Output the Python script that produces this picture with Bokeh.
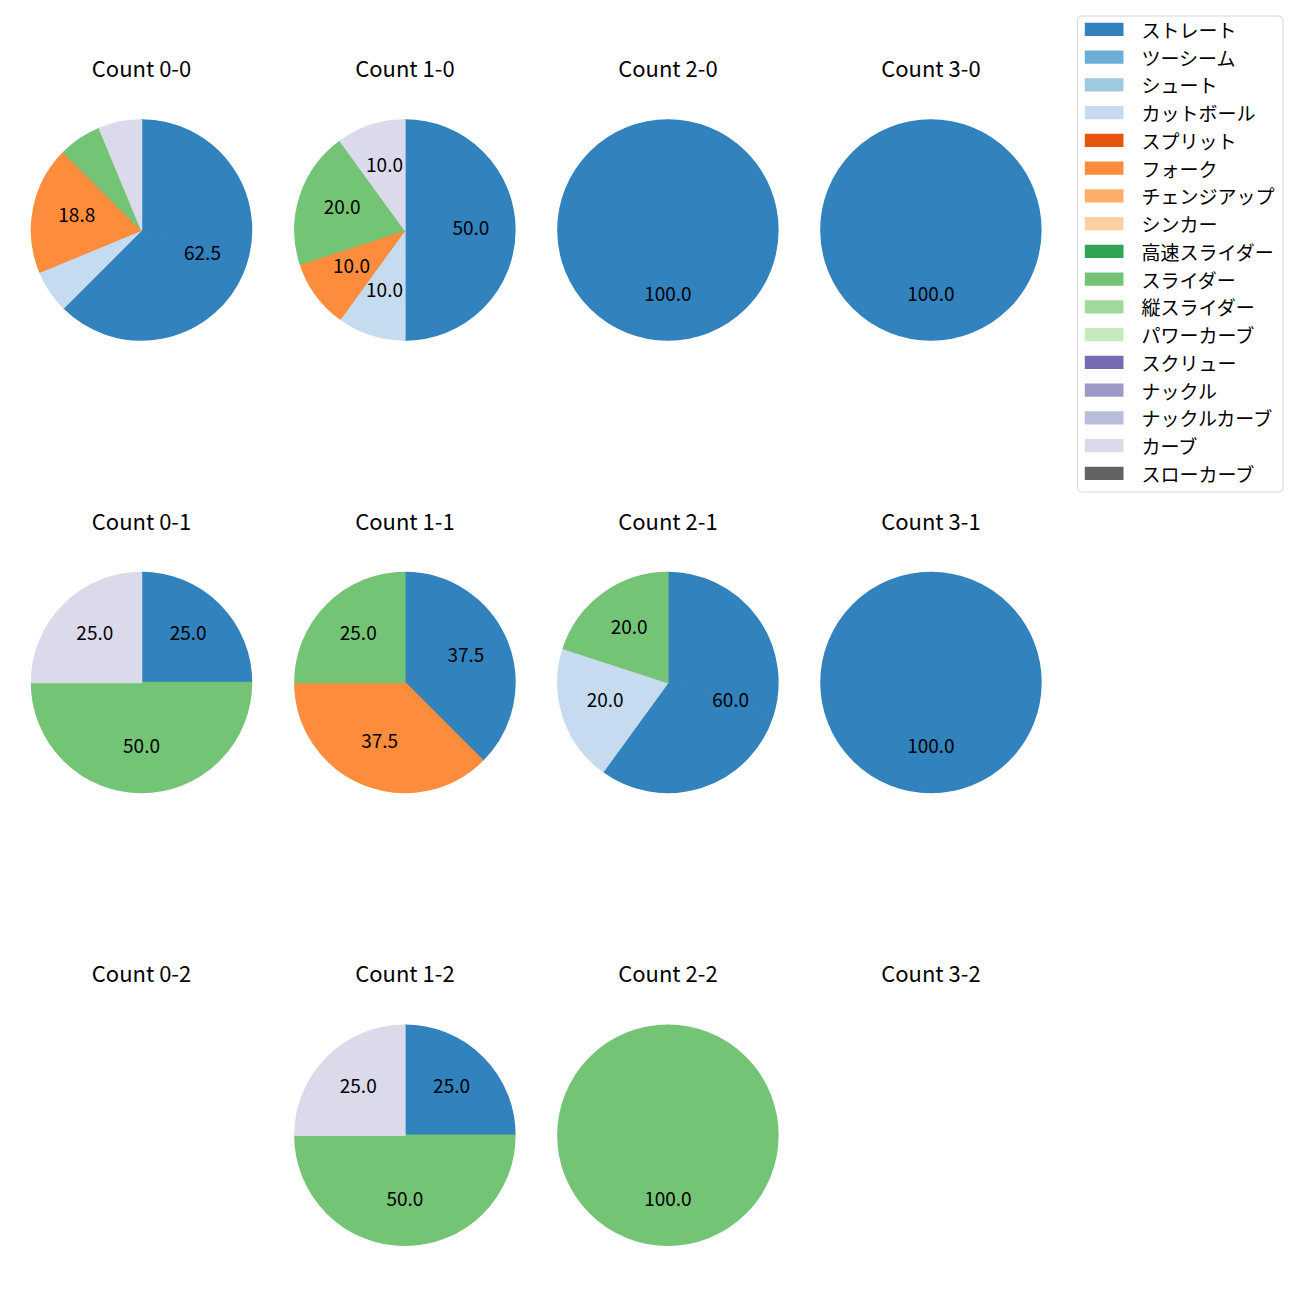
import math
from bokeh.plotting import figure
from bokeh.models import Range1d, ColumnDataSource
from bokeh.core.properties import value
from bokeh.embed import file_html
from bokeh.resources import INLINE

# ---------------- data ----------------
pitch_types = ["ストレート", "ツーシーム", "シュート", "カットボール", "スプリット", "フォーク",
               "チェンジアップ", "シンカー", "高速スライダー", "スライダー", "縦スライダー",
               "パワーカーブ", "スクリュー", "ナックル", "ナックルカーブ", "カーブ", "スローカーブ"]
pitch_colors = ["#3182bd", "#6baed6", "#9ecae1", "#c6dbef", "#e6550d", "#fd8d3c",
                "#fdae6b", "#fdd0a2", "#31a354", "#74c476", "#a1d99b", "#c7e9c0",
                "#756bb1", "#9e9ac8", "#bcbddc", "#dadaeb", "#636363"]
count_labels = ["0-0", "1-0", "2-0", "3-0",
                "0-1", "1-1", "2-1", "3-1",
                "0-2", "1-2", "2-2", "3-2"]
# number of pitches per count state (same order as count_labels)
straight = [10, 5, 1, 1, 1, 3, 3, 1, 0, 1, 0, 0]
cutter   = [1, 1, 0, 0, 0, 0, 1, 0, 0, 0, 0, 0]
fork     = [3, 1, 0, 0, 0, 3, 0, 0, 0, 0, 0, 0]
slider   = [1, 2, 0, 0, 2, 2, 1, 0, 0, 2, 1, 0]
curve    = [1, 1, 0, 0, 1, 0, 0, 0, 0, 1, 0, 0]

pitch_counts = {name: [0] * len(count_labels) for name in pitch_types}
pitch_counts["ストレート"] = straight
pitch_counts["カットボール"] = cutter
pitch_counts["フォーク"] = fork
pitch_counts["スライダー"] = slider
pitch_counts["カーブ"] = curve

# ---------------- layout ----------------
PAGE = 1300
SIZE = 1290
FONT = "Noto Sans CJK JP"
col_x = [141.0, 404.4, 667.4, 930.4]
row_py = [229.5, 682.0, 1134.8]
R = 110.0
TITLE_OFF = 163.0
PCT_DIST = 0.6
LABEL_DY = 2.5


def sy(py):
    return PAGE - py


p = figure(width=SIZE, height=SIZE, x_range=Range1d(0, SIZE), y_range=Range1d(PAGE - SIZE, PAGE),
           output_backend="svg", toolbar_location=None, title=None, min_border=0,
           x_axis_type=None, y_axis_type=None)
p.outline_line_color = None
p.background_fill_color = "white"
p.border_fill_color = "white"

wx, wy, ws, we, wc = [], [], [], [], []
lx, ly, lt = [], [], []
tx, ty, tt = [], [], []

for k, lab in enumerate(count_labels):
    row, col = k // 4, k % 4
    cx, cy = col_x[col], sy(row_py[row])
    tx.append(cx)
    ty.append(sy(row_py[row] - TITLE_OFF))
    tt.append("Count " + lab)
    vals = [pitch_counts[n][k] for n in pitch_types]
    total = sum(vals)
    if total == 0:
        continue
    cum = 0.0
    for v, c in zip(vals, pitch_colors):
        if v <= 0:
            continue
        frac = v / total
        a0 = cum
        a1 = cum + frac
        # split slices larger than half a circle into two pieces
        pieces = [(a0, a1)] if frac <= 0.5 else [(a0, a0 + frac / 2), (a0 + frac / 2, a1)]
        for s, e in pieces:
            wx.append(cx)
            wy.append(cy)
            ws.append(math.pi / 2 - 2 * math.pi * e)
            we.append(math.pi / 2 - 2 * math.pi * s)
            wc.append(c)
        pct = frac * 100
        if pct >= 10:
            mid = math.pi / 2 - 2 * math.pi * (a0 + frac / 2)
            lx.append(cx + PCT_DIST * R * math.cos(mid))
            ly.append(cy + PCT_DIST * R * math.sin(mid) + LABEL_DY)
            lt.append("%.1f" % pct)
        cum = a1

wsrc = ColumnDataSource(dict(x=wx, y=wy, s=ws, e=we, c=wc))
p.wedge(x="x", y="y", radius=R, start_angle="s", end_angle="e", source=wsrc,
        fill_color="c", line_color="c", line_width=1.5)

p.text(x="x", y="y", text="t", source=ColumnDataSource(dict(x=lx, y=ly, t=lt)),
       text_font=value(FONT), text_font_size="19px", text_color="black",
       text_align="center", text_baseline="middle")

p.text(x="x", y="y", text="t", source=ColumnDataSource(dict(x=tx, y=ty, t=tt)),
       text_font=value(FONT), text_font_size="22px", text_color="black",
       text_align="center", text_baseline="alphabetic")

# ---------------- legend ----------------
LEG_L, LEG_R, LEG_T, LEG_B = 1077.0, 1282.5, 15.5, 491.5
try:
    p.quad(left=[LEG_L], right=[LEG_R], top=[sy(LEG_T)], bottom=[sy(LEG_B)],
           fill_color="white", line_color="#d6d6d6", line_width=1, border_radius=4)
except Exception:
    p.quad(left=[LEG_L], right=[LEG_R], top=[sy(LEG_T)], bottom=[sy(LEG_B)],
           fill_color="white", line_color="#d6d6d6", line_width=1)

row0, step, ph = 28.8, 27.75, 6.6
rows_py = [row0 + i * step for i in range(len(pitch_types))]
p.quad(left=[1084.3] * len(pitch_types), right=[1123.0] * len(pitch_types),
       top=[sy(r - ph) for r in rows_py], bottom=[sy(r + ph) for r in rows_py],
       fill_color=pitch_colors, line_color=None)
p.text(x=[1141.0] * len(pitch_types), y=[sy(r) for r in rows_py], text=pitch_types,
       text_font=value(FONT), text_font_size="19px", text_color="black",
       text_align="left", text_baseline="middle")

open("out.html", "w").write(file_html(p, INLINE))
